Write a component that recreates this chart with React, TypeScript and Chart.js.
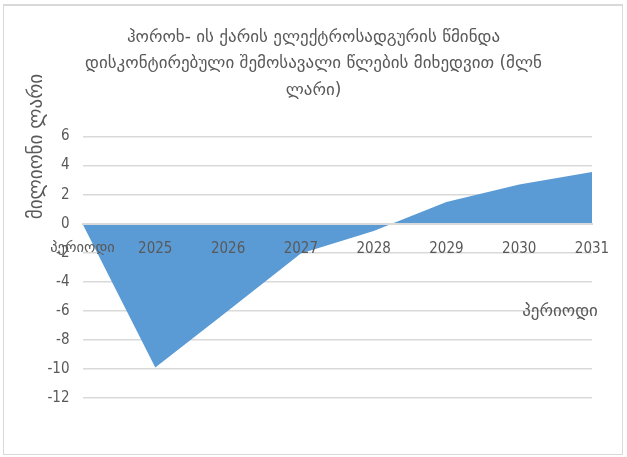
import React, { useEffect, useRef } from "react";
import { Chart, registerables } from "chart.js";

Chart.register(...registerables);

const titleLines = [
  "ჰოროხ- ის ქარის ელექტროსადგურის წმინდა",
  "დისკონტირებული შემოსავალი წლების მიხედვით (მლნ",
  "ლარი)",
];
const categories = ["პერიოდი", "2025", "2026", "2027", "2028", "2029", "2030", "2031"];
const netIncome = [0, -9.9, -6.0, -2.05, -0.5, 1.5, 2.7, 3.55];
const yTitle = "მილიონი ლარი";
const xTitle = "პერიოდი";

const GEO = "'DejaVu Sans', sans-serif";
const NUM = "'DejaVu Sans Condensed', 'Liberation Sans', sans-serif";
const TEXT = "#595959";
const GRID = "#d9d9d9";

const axisTitles = {
  id: "axisTitles",
  afterDraw(chart: any) {
    const { ctx, chartArea } = chart;
    ctx.save();
    ctx.fillStyle = TEXT;
    ctx.font = `19px ${GEO}`;
    ctx.textAlign = "center";
    ctx.textBaseline = "middle";
    ctx.translate(chartArea.left - 45, chartArea.top + 10);
    ctx.rotate(-Math.PI / 2);
    ctx.fillText(yTitle, 0, 0);
    ctx.restore();
    ctx.save();
    ctx.fillStyle = TEXT;
    ctx.font = `17px ${GEO}`;
    ctx.textAlign = "center";
    ctx.textBaseline = "middle";
    const y = chart.scales.y.getPixelForValue(-6);
    ctx.fillText(xTitle, chartArea.right - 32, y + 1);
    ctx.restore();
  },
};

function ChartView() {
  const ref = useRef<HTMLCanvasElement>(null);
  useEffect(() => {
    const chart = new Chart(ref.current!, {
      type: "line",
      data: {
        labels: categories,
        datasets: [
          {
            data: netIncome,
            fill: "origin",
            backgroundColor: "#5b9bd5",
            borderWidth: 0,
            pointRadius: 0,
            tension: 0,
          },
        ],
      },
      options: {
        animation: false,
        responsive: false,
        layout: { padding: { left: 35, right: 35, bottom: 59, top: 0 } },
        plugins: {
          legend: { display: false },
          tooltip: { enabled: false },
          title: {
            display: true,
            text: titleLines,
            color: TEXT,
            font: { family: GEO, size: 17, weight: "normal", lineHeight: "26.5px" },
            padding: { top: 24, bottom: 33 },
          },
        },
        scales: {
          x: {
            position: { y: 0 } as any,
            offset: false,
            grid: { display: false, drawTicks: false },
            border: { display: true, color: GRID, width: 2, z: 1 } as any,
            ticks: {
              z: 1,
              color: TEXT,
              padding: 16,
              maxRotation: 0,
              autoSkip: false,
              font: (c: any) => ({
                family: c.index === 0 ? GEO : NUM,
                size: c.index === 0 ? 14.5 : 15,
              }),
            },
          },
          y: {
            min: -12,
            max: 6,
            afterFit: (s: any) => {
              s.width = 47.5;
            },
            grid: { color: GRID, lineWidth: 1.5, drawTicks: false },
            border: { display: false },
            ticks: {
              stepSize: 2,
              color: TEXT,
              padding: 13,
              font: { family: NUM, size: 15 },
            },
          },
        },
      },
      plugins: [axisTitles],
    });
    return () => chart.destroy();
  }, []);
  return <canvas ref={ref} width={627} height={457} style={{ display: "block" }} />;
}

export default function App() {
  return (
    <div style={{ position: "absolute", left: 0, top: 0, width: 627, height: 457, background: "#fff" }}>
      <div
        style={{
          position: "absolute",
          left: 3,
          top: 4,
          width: 620,
          height: 451,
          boxSizing: "border-box",
          border: "1px solid #d9d9d9",
          borderTopWidth: 2,
        }}
      />
      <div style={{ position: "absolute", left: 0, top: 0 }}>
        <ChartView />
      </div>
    </div>
  );
}
